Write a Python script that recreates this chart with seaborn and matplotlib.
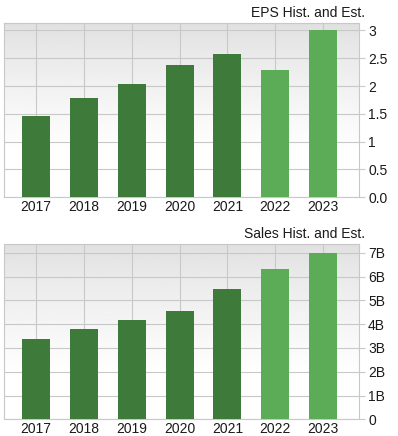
import numpy as np
import pandas as pd
import matplotlib
matplotlib.use("Agg")
import matplotlib.pyplot as plt
import seaborn as sns

years = ["2017", "2018", "2019", "2020", "2021", "2022", "2023"]
eps_values = [1.46, 1.79, 2.03, 2.37, 2.57, 2.28, 3.00]
sales_values = [3.36, 3.78, 4.17, 4.56, 5.49, 6.33, 7.00]  # billions
is_estimate = [False, False, False, False, False, True, True]
eps_ticks = [0.0, 0.5, 1.0, 1.5, 2.0, 2.5, 3.0]
eps_tick_labels = ["0.0", "0.5", "1", "1.5", "2", "2.5", "3"]
sales_ticks = [0, 1, 2, 3, 4, 5, 6, 7]
sales_tick_labels = ["0", "1B", "2B", "3B", "4B", "5B", "6B", "7B"]

DARK = "#3e7a3a"
LIGHT = "#5bab57"
GRID = "#c8c8c8"
TXT = "#1a1a1a"

sns.set_style("white")
plt.rcParams["font.family"] = ["Liberation Sans", "DejaVu Sans"]

fig = plt.figure(figsize=(3.98, 4.36), dpi=100)
ax1 = fig.add_axes([0.010, 0.5475, 0.892, 0.4005])
ax2 = fig.add_axes([0.010, 0.0383, 0.892, 0.4020])

t = np.linspace(0, 1, 256)
grad = (0.875 + 0.125 * np.clip(t / 0.75, 0, 1) ** 0.8).reshape(-1, 1)


def draw(ax, values, ticks, labels, ymax, title):
    df = pd.DataFrame({"year": years, "value": values,
                       "kind": ["Est." if e else "Hist." for e in is_estimate]})
    ax.imshow(grad, cmap="gray", vmin=0, vmax=1, aspect="auto",
              extent=[0, 1, 0, 1], transform=ax.transAxes, zorder=0,
              interpolation="bilinear")
    sns.barplot(data=df, x="year", y="value", hue="kind",
                palette={"Hist.": DARK, "Est.": LIGHT}, dodge=False,
                width=0.585, ax=ax, legend=False, zorder=3,
                edgecolor="none", saturation=1)
    ax.set_xlim(-0.669, 6.75)
    ax.set_ylim(0, ymax)
    ax.set_yticks(ticks)
    ax.set_yticklabels(labels)
    ax.yaxis.tick_right()
    ax.tick_params(axis="y", which="both", right=True, length=4.5, width=0.8,
                   color=GRID, labelsize=10, pad=2, labelcolor=TXT)
    ax.tick_params(axis="x", bottom=False, labelsize=10, pad=-1.5,
                   labelcolor=TXT)
    ax.set_xlabel("")
    ax.set_ylabel("")
    ax.grid(True, color=GRID, linewidth=0.8, zorder=1)
    ax.set_axisbelow(True)
    for s in ax.spines.values():
        s.set_visible(True)
        s.set_color(GRID)
        s.set_linewidth(0.8)
    ax.set_title(title, loc="right", fontsize=10, pad=4, color=TXT,
                 x=1.018)


draw(ax1, eps_values, eps_ticks, eps_tick_labels, 3.14, "EPS Hist. and Est.")
draw(ax2, sales_values, sales_ticks, sales_tick_labels, 7.37, "Sales Hist. and Est.")

fig.savefig("out.png", dpi=100)
